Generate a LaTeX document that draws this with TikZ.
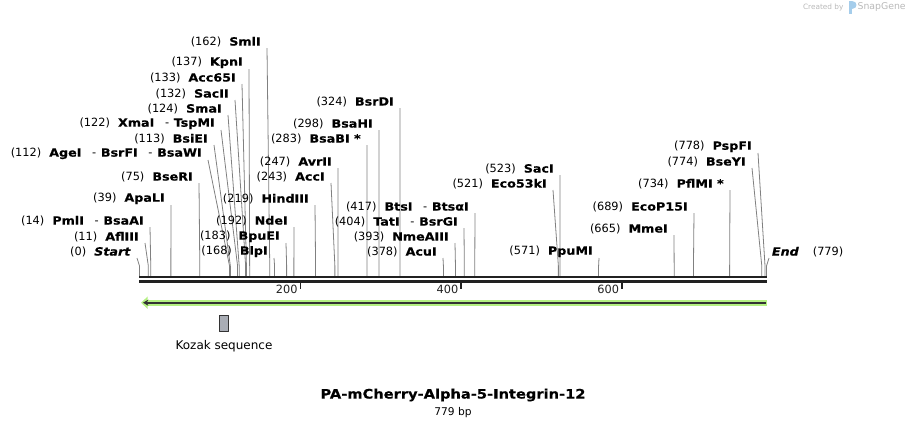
\documentclass[tikz,border=0pt]{standalone}
\usepackage{fontspec}
\setmainfont{DejaVu Sans}[BoldFeatures={FakeStretch=1.12,FakeBold=0.4},BoldItalicFeatures={FakeStretch=1.12,FakeBold=0.4}]
\usetikzlibrary{arrows.meta,calc,positioning}
\definecolor{orfgreen}{RGB}{180,240,130}
\definecolor{kozakgray}{RGB}{169,173,181}
\definecolor{cutgray}{RGB}{128,128,128}
\definecolor{creditgray}{RGB}{185,185,185}
\definecolor{logoblue}{RGB}{165,205,235}
\newcommand{\orcut}{\hspace{8pt}\textmd{-}\hspace{3.5pt}}
\tikzset{
  cutlabel/.style={anchor=south east,inner xsep=4.5pt,inner ysep=0.5pt},
  cutline/.style={draw=cutgray,line width=0.6pt},
  seqline/.style={draw=black!87,line width=2pt}
}
\begin{document}
\begin{tikzpicture}[x=0.75pt,y=-0.75pt,font=\fontsize{8.5}{10}\selectfont,line join=round]
\def\bpx{0.804}
\def\xzero{139.5}
\useasboundingbox (0,0) rectangle (907,426);
\foreach \p/\x/\y/\n in {162/267/48/SmlI,137/249/69/KpnI,133/242/84/Acc65I,132/235/100/SacII,124/228/115/SmaI,122/221/130/XmaI\orcut TspMI,113/214/145/BsiEI,112/208/160/AgeI\orcut BsrFI\orcut BsaWI,75/199/183/BseRI,39/171/205/ApaLI,14/150/227/PmlI\orcut BsaAI,11/145/243/AflIII,0/137/258/\textit{Start},168/274/258/BlpI,183/286/243/BpuEI,192/294/227/NdeI,219/315/205/HindIII,243/331/183/AccI,247/338/168/AvrII,283/367/145/BsaBI *,298/379/130/BsaHI,324/400/108/BsrDI,378/443/258/AcuI,393/455/243/NmeAIII,404/464/228/TatI\orcut BsrGI,417/475/213/BtsI\orcut BtsαI,521/553/190/Eco53kI,523/560/175/SacI,571/599/258/PpuMI,665/674/235/MmeI,689/694/213/EcoP15I,734/730/190/PflMI *,774/752/168/BseYI,778/758/153/PspFI}{
  \coordinate (cut\p) at ({\xzero+\p*\bpx},276);
  \node[cutlabel] (lab\p) at (\x,\y) {(\p)\hspace{6pt}\textbf{\n}};
  \draw[cutline] (lab\p.south east) -- ($(cut\p)+(0,-10)$) -- (cut\p);
}
\coordinate (cutEnd) at (766.5,276);
\node[anchor=south west,inner xsep=2pt,inner ysep=0.5pt] (labEnd) at (769,258) {\textbf{\textit{End}}\hspace{10.5pt}(779)};
\draw[cutline] (labEnd.south west) -- ($(cutEnd)+(0,-10)$) -- (cutEnd);
\coordinate (seqL) at (139,277);
\coordinate (seqR) at (767,277);
\draw[seqline] (seqL) -- (seqR);
\draw[seqline,line width=2.2pt] ($(seqL)+(0,4.2)$) -- ($(seqR)+(0,4.2)$);
\foreach \t in {200,400,600}{
  \coordinate (tick\t) at ({\xzero+\t*\bpx},282);
  \draw[black!87,line width=1.2pt] (tick\t) -- ++(0,7) node[anchor=east,inner sep=1.5pt] (tlab\t) {\t};
}
\coordinate (orfR) at (767,302.7);
\coordinate (orfL) at (141,302.7);
\draw[orfgreen,line width=4.5pt,-{Triangle[length=5pt,width=9pt]}] (orfR) -- (orfL);
\draw[black!80,line width=1.3pt,-{Stealth[length=4pt,width=4.5pt]}] ($(orfR)+(-1.5,0)$) -- ($(orfL)+(2,0)$);
\node[draw=black!80,fill=kozakgray,line width=0.6pt,minimum width=7pt,minimum height=12.5pt,inner sep=0pt] (kozak) at (224,323.3) {};
\node[below=3pt of kozak,font=\fontsize{9}{11}\selectfont] (kozakLbl) {Kozak sequence};
\node[font=\fontsize{9.8}{12}\selectfont\bfseries] (title) at (453,395) {PA-mCherry-Alpha-5-Integrin-12};
\node[below=0pt of title,font=\fontsize{8}{10}\selectfont,inner sep=1pt] (bplen) {779 bp};
\node[anchor=east,font=\fontsize{5.5}{6}\selectfont,text=creditgray,inner sep=1pt] (credit) at (845,7) {Created by};
\fill[logoblue] (849,1) rectangle (852,14);
\fill[logoblue] (852,1) .. controls (858,1) and (858,9) .. (852,9) -- cycle;
\node[anchor=west,font=\fontsize{7}{8}\selectfont,text=creditgray,inner sep=1pt] (snapgene) at (856,7) {SnapGene};
\end{tikzpicture}
\end{document}
